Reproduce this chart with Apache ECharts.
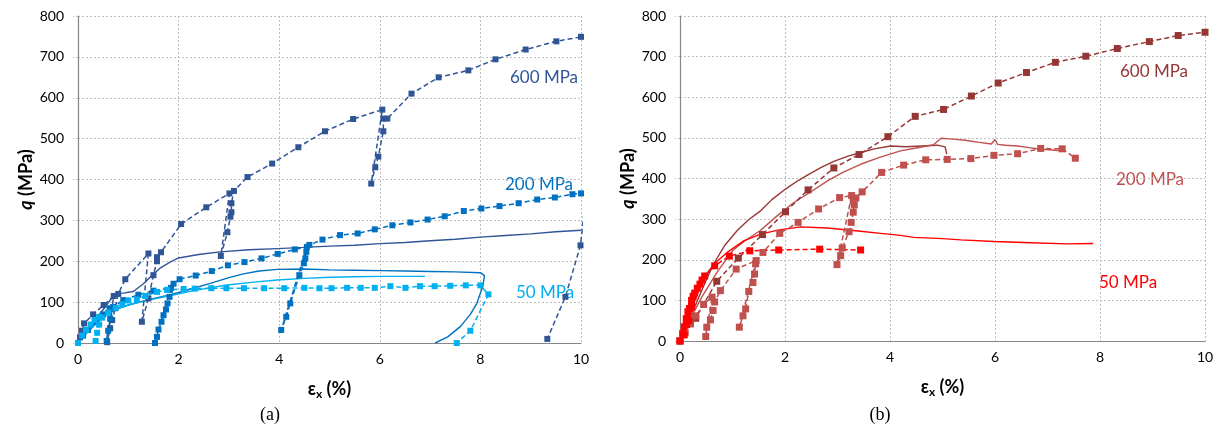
<!DOCTYPE html>
<html><head><meta charset="utf-8">
<script src="https://cdn.jsdelivr.net/npm/echarts@6/dist/echarts.min.js"></script>
<style>html,body{margin:0;padding:0;background:#fff}#c{width:1226px;height:432px}</style>
</head><body><div id="c"></div>
<script>
// ---------- axis ticks ----------
const xTicks = [0, 2, 4, 6, 8, 10];
const yTicks = [0, 100, 200, 300, 400, 500, 600, 700, 800];
const curveLabels = ['600 MPa', '200 MPa', '50 MPa'];
const panelLabels = ['(a)', '(b)'];

// ---------- panel (a) : blue ----------
const a600sim = [[0,0],[0.15,25],[0.3,50],[0.5,82],[0.74,121],[0.9,122],[1.1,126],[1.3,145],[1.47,165],[1.64,184],[1.83,198],[2.0,208],[2.43,217],[2.83,223],[3.4,228],[3.96,231],[4.5,234],[5.0,237],[5.5,239],[6.0,243],[6.5,246],[7.0,250],[7.5,254],[8.0,259],[8.5,263],[9.0,267],[9.5,272],[10.0,276]];
const a200sim = [[0,0],[0.2,28],[0.4,52],[0.6,72],[0.8,85],[1.0,93],[1.4,106],[1.84,118],[2.3,134],[2.63,146],[3.0,160],[3.29,169],[3.6,176],[3.96,180],[4.5,181],[5.0,179],[5.5,178],[6.0,177],[6.5,176],[7.0,175],[7.5,174],[8.0,172],[8.08,165],[8.05,140],[7.93,97],[7.8,70],[7.6,40],[7.35,15],[7.1,0]];
const a50sim = [[0,0],[0.2,30],[0.4,55],[0.6,72],[0.8,84],[1.0,93],[1.4,105],[1.8,115],[2.3,128],[2.96,142],[3.5,149],[3.96,154],[4.5,158],[5.02,161],[5.5,162],[6.0,163],[6.5,163],[6.9,163]];
const a600exp = [[0,0],[0.04,14],[0.08,30],[0.12,48],[0.3,70],[0.51,93],[0.71,115],[0.58,2],[0.64,36],[0.68,56],[0.74,85],[0.8,120],[0.94,156],[1.4,219],[1.27,52],[1.4,109],[1.5,166],[1.57,200],[1.57,210],[1.65,222],[2.05,291],[2.55,332],[3.01,366],[2.84,213],[2.97,271],[3.03,309],[3.05,320],[3.05,342],[3.1,372],[3.37,406],[3.86,439],[4.38,479],[4.91,518],[5.47,548],[6.05,571],[5.83,390],[5.91,430],[5.97,456],[6.07,518],[6.07,549],[6.15,549],[6.63,610],[7.17,650],[7.76,667],[8.3,694],[8.9,718],[9.51,738],[10.0,749],[10.4,760],[10.2,480],[9.99,239],[9.69,113],[9.33,10]];
const a200exp = [[0,0],[0.1,18],[0.2,32],[0.35,52],[0.5,70],[0.63,85],[0.57,5],[0.6,30],[0.64,60],[0.7,88],[0.9,105],[1.2,118],[1.5,128],[1.85,135],[1.53,0],[1.57,15],[1.6,33],[1.66,52],[1.7,68],[1.75,82],[1.78,97],[1.82,113],[1.83,130],[1.9,145],[2.02,156],[2.34,165],[2.66,176],[2.98,190],[3.31,198],[3.65,207],[3.97,218],[4.31,229],[4.55,235],[4.04,32],[4.14,64],[4.22,97],[4.4,166],[4.49,195],[4.52,207],[4.54,223],[4.6,240],[4.86,253],[5.21,264],[5.56,268],[5.9,278],[6.25,288],[6.61,295],[6.95,302],[7.29,310],[7.67,323],[8.02,329],[8.38,335],[8.76,342],[9.13,351],[9.48,356],[9.83,364],[10.0,366],[10.3,372]];
const a50exp = [[0,0],[0.08,18],[0.16,32],[0.25,45],[0.33,56],[0.42,64],[0.35,5],[0.38,25],[0.42,45],[0.48,62],[0.6,75],[0.75,86],[0.88,95],[1.0,104],[1.17,106],[1.34,115],[1.57,125],[1.77,130],[2.1,132],[2.32,133],[2.65,134],[2.95,134],[3.3,134],[3.7,134],[4.1,134],[4.5,135],[4.8,134],[5.04,134],[5.35,135],[5.62,135],[5.9,135],[6.21,139],[6.51,135],[6.8,139],[7.09,139],[7.4,140],[7.71,141],[8.0,141],[8.16,119],[7.8,30],[7.53,0]];

// ---------- panel (b) : red ----------
const b600sim = [[0,0],[0.1,30],[0.2,60],[0.35,105],[0.5,150],[0.65,192],[0.85,235],[1.09,272],[1.3,298],[1.54,321],[1.75,348],[2.01,374],[2.25,395],[2.46,411],[2.7,428],[2.93,442],[3.2,455],[3.44,464],[3.7,473],[4.01,480],[4.3,478],[4.6,480],[4.9,482],[5.05,478],[5.08,460]];
const b200sim = [[0,0],[0.1,28],[0.2,55],[0.4,105],[0.71,170],[1.0,222],[1.22,245],[1.53,272],[1.85,308],[2.17,341],[2.5,368],[2.81,394],[3.1,415],[3.44,435],[3.8,452],[4.2,468],[4.5,475],[4.83,483],[4.97,499],[5.2,497],[5.43,494],[5.7,489],[5.93,485],[6.0,496],[6.05,484],[6.2,482],[6.43,480],[6.65,476],[6.87,472],[7.1,470],[7.35,467]];
const b50sim = [[0,0],[0.1,35],[0.2,70],[0.3,105],[0.46,157],[0.65,190],[0.9,218],[1.22,247],[1.54,263],[1.86,273],[2.3,281],[2.81,278],[3.44,270],[3.82,265],[4.2,260],[4.46,255],[5.0,252],[5.35,249],[5.98,245],[6.68,242],[7.38,239],[7.87,240]];
const b600exp = [[0,0],[0.3,56],[0.7,147],[1.11,204],[1.57,262],[2.01,318],[2.44,372],[2.93,426],[3.41,459],[3.96,503],[4.48,553],[5.02,570],[5.55,603],[6.06,635],[6.6,661],[7.15,686],[7.73,701],[8.33,720],[8.94,737],[9.49,752],[10.0,760]];
const b200exp = [[0,0],[0.1,20],[0.2,42],[0.3,62],[0.45,90],[0.61,108],[0.49,11],[0.51,34],[0.58,52],[0.63,75],[0.66,96],[0.77,124],[1.07,177],[1.45,198],[1.13,34],[1.2,62],[1.25,79],[1.31,122],[1.39,144],[1.42,165],[1.44,190],[1.58,218],[1.9,265],[2.25,292],[2.64,325],[3.04,353],[3.27,358],[2.99,188],[3.06,210],[3.09,229],[3.22,269],[3.26,292],[3.3,317],[3.32,335],[3.3,345],[3.35,352],[3.47,367],[3.84,415],[4.26,433],[4.68,446],[5.09,447],[5.54,449],[5.98,457],[6.43,461],[6.87,474],[7.28,473],[7.53,450]];
const b50exp = [[0,0],[0.05,18],[0.08,35],[0.12,55],[0.15,72],[0.08,15],[0.12,40],[0.18,80],[0.22,100],[0.25,110],[0.17,50],[0.22,85],[0.28,118],[0.33,130],[0.38,140],[0.42,150],[0.47,160],[0.66,185],[0.94,209],[1.33,222],[1.88,224],[2.66,226],[3.44,224]];

// ---------- colours ----------
const blues = ['#2F5597', '#0070C0', '#00B0F0'];
const reds = ['#953735', '#C0504D', '#FF0000'];

const chart = echarts.init(document.getElementById('c'), null, {renderer: 'canvas'});
const FONT = 'Lato, "Open Sans", sans-serif';

function solid(data, color, g) {
  return {type: 'line', xAxisIndex: g, yAxisIndex: g, data: data, showSymbol: false, symbol: 'none',
    lineStyle: {color: color, width: 1.4}, clip: true, silent: true, z: 2};
}
function dashed(data, color, g, size) {
  return {type: 'line', xAxisIndex: g, yAxisIndex: g, data: data, symbol: 'rect', symbolSize: size,
    itemStyle: {color: color}, lineStyle: {color: color, width: 1.5, type: [5, 3]}, clip: true, silent: true, z: 3};
}
function xAx(g) {
  return {type: 'value', gridIndex: g, min: xTicks[0], max: xTicks[xTicks.length - 1], interval: 2,
    axisLine: {show: true, onZero: false, lineStyle: {color: '#868686', width: 1.2}},
    axisTick: {show: false},
    axisLabel: {color: '#000', fontFamily: FONT, fontSize: 14, margin: 9},
    splitLine: {show: true, lineStyle: {color: '#BFBFBF', type: [2, 2], width: 1}},
    name: '{e|ε}{s|x}{e| (%)}', nameLocation: 'middle', nameGap: 36,
    nameTextStyle: {rich: {
      e: {fontFamily: FONT, fontWeight: 'bold', fontSize: 18, color: '#000'},
      s: {fontFamily: FONT, fontWeight: 'bold', fontSize: 12, color: '#000', padding: [9, 0, 0, 0]}
    }}};
}
function yAx(g) {
  return {type: 'value', gridIndex: g, min: yTicks[0], max: yTicks[yTicks.length - 1], interval: 100,
    axisLine: {show: true, onZero: false, lineStyle: {color: '#868686', width: 1.2}},
    axisTick: {show: true, length: 5, lineStyle: {color: '#BFBFBF', type: [2, 2]}},
    axisLabel: {color: '#000', fontFamily: FONT, fontSize: 14, margin: 14},
    splitLine: {show: true, lineStyle: {color: '#BFBFBF', type: [2, 2], width: 1}},
    name: '{q|q}{b| (MPa)}', nameLocation: 'middle', nameRotate: 90, nameGap: 43,
    nameTextStyle: {rich: {
      q: {fontFamily: FONT, fontWeight: 'bold', fontStyle: 'italic', fontSize: 18, color: '#000'},
      b: {fontFamily: FONT, fontWeight: 'bold', fontSize: 18, color: '#000'}
    }}};
}
function txt(text, x, y, color, font) {
  return {type: 'text', x: x, y: y, silent: true,
    style: {text: text, fill: color, font: font, align: 'center', verticalAlign: 'middle'}};
}
const LF = '17px ' + FONT;
const PF = '18px "Liberation Serif", serif';

const option = {
  animation: false,
  backgroundColor: '#fff',
  grid: [
    {left: 78, top: 16, width: 503, height: 327},
    {left: 680, top: 16, width: 525, height: 325}
  ],
  xAxis: [xAx(0), xAx(1)],
  yAxis: [yAx(0), yAx(1)],
  graphic: [
    txt(panelLabels[0], 270, 415, '#000', PF),
    txt(panelLabels[1], 880, 415, '#000', PF),
    txt(curveLabels[0], 544, 78, blues[0], LF),
    txt(curveLabels[1], 539, 185, blues[1], LF),
    txt(curveLabels[2], 545, 293, blues[2], LF),
    txt(curveLabels[0], 1154, 72, reds[0], LF),
    txt(curveLabels[1], 1150, 180, reds[1], LF),
    txt(curveLabels[2], 1128, 283, reds[2], LF)
  ],
  series: [
    solid(a600sim, blues[0], 0), solid(a200sim, blues[1], 0), solid(a50sim, blues[2], 0),
    dashed(a600exp, blues[0], 0, 6), dashed(a200exp, blues[1], 0, 6), dashed(a50exp, blues[2], 0, 6),
    solid(b600sim, reds[0], 1), solid(b200sim, reds[1], 1), solid(b50sim, reds[2], 1),
    dashed(b600exp, reds[0], 1, 7), dashed(b200exp, reds[1], 1, 7), dashed(b50exp, reds[2], 1, 7)
  ]
};
chart.setOption(option);
</script></body></html>
